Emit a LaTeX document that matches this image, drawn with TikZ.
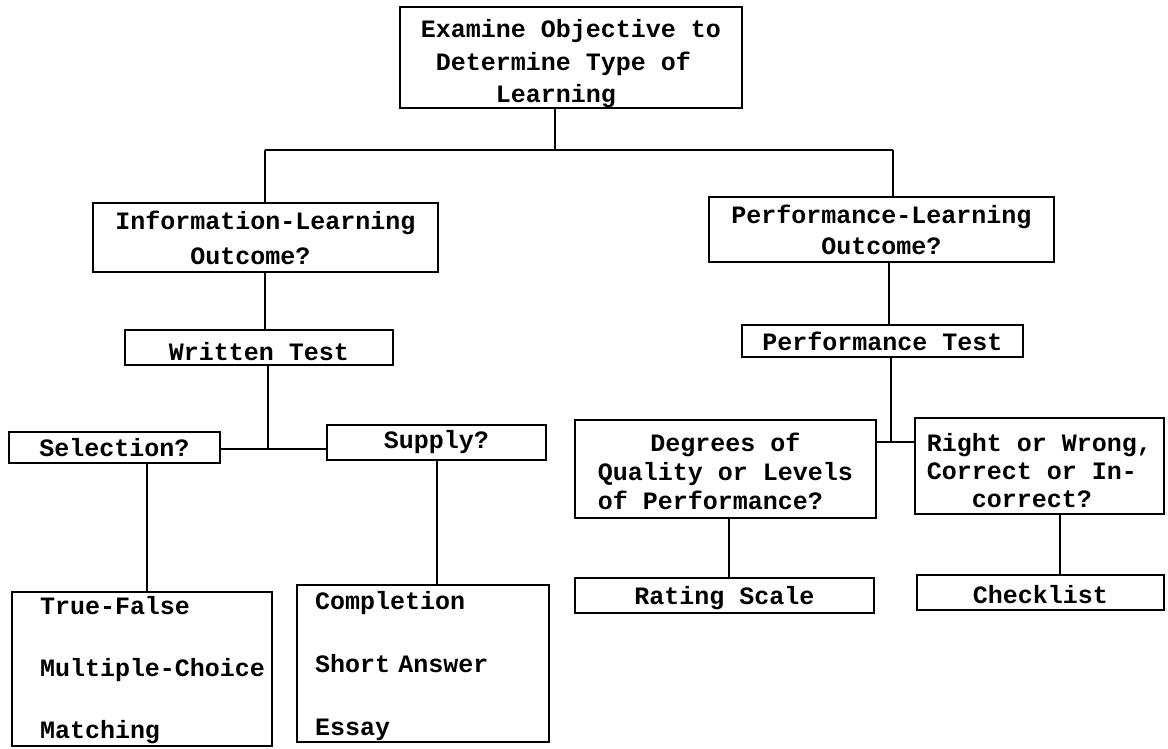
\documentclass[tikz,border=0pt]{standalone}
\usepackage{fontspec}
\setmainfont{Liberation Mono}
\newcommand{\dnstrut}[1]{\rule{0pt}{#1pt}}
\begin{document}
\begin{tikzpicture}[x=1pt,y=-1pt,
  box/.style={draw, line width=2pt, inner sep=0pt, font=\fontsize{25}{31}\selectfont\bfseries},
  conn/.style={line width=2pt}]
\useasboundingbox (0,0) rectangle (1168,748);
% boxes
\node[box, minimum width=342pt, minimum height=99pt, align=left, font=\fontsize{25}{32.5}\selectfont\bfseries] (top) at (571,57.5)
  {\dnstrut{31}Examine Objective to\\\hphantom{x}Determine Type of\\\hphantom{xxxxx}Learning};
\node[box, minimum width=345pt, minimum height=69pt, align=left, font=\fontsize{25}{35}\selectfont\bfseries] (info) at (265.5,237.5)
  {Information-Learning\\\hphantom{xxxxx}Outcome?};
\node[box, minimum width=345pt, minimum height=65pt, align=center, font=\fontsize{25}{31}\selectfont\bfseries] (perf) at (881.5,229.5)
  {Performance-Learning\\Outcome?};
\node[box, minimum width=268pt, minimum height=35pt] (written) at (259,347.5) {\dnstrut{26}Written Test};
\node[box, minimum width=281pt, minimum height=32pt] (perftest) at (882.5,341) {Performance Test};
\node[box, minimum width=211pt, minimum height=31pt] (sel) at (114.5,447.5) {Selection?};
\node[box, minimum width=219pt, minimum height=35pt] (sup) at (436.5,442.5) {Supply?};
\node[box, minimum width=260pt, minimum height=154pt, text width=204pt, align=left, font=\fontsize{25}{62}\selectfont\bfseries] (tf) at (142,669)
  {\mbox{\dnstrut{20}True-False}\\\mbox{Multiple-Choice}\\\mbox{Matching}};
\node[box, minimum width=252pt, minimum height=157pt, text width=216pt, align=left, font=\fontsize{25}{63}\selectfont\bfseries] (comp) at (423,663.5)
  {\mbox{\dnstrut{24}Completion}\\\mbox{Short Answer}\\\mbox{Essay}};
\node[box, minimum width=301pt, minimum height=98pt, align=left, font=\fontsize{25}{29}\selectfont\bfseries] (deg) at (725.5,469)
  {\dnstrut{24}\hphantom{xxx}\hspace{7.5pt}Degrees of\\Quality or Levels\\of Performance?};
\node[box, minimum width=249pt, minimum height=96pt, align=left, font=\fontsize{25}{28}\selectfont\bfseries] (rw) at (1039.5,466)
  {\dnstrut{28}Right or Wrong,\\Correct or In-\\\hphantom{xxx}correct?};
\node[box, minimum width=299pt, minimum height=35pt] (rating) at (724.5,595.5) {\dnstrut{24}Rating Scale};
\node[box, minimum width=247pt, minimum height=35pt] (check) at (1040.5,592.5) {\dnstrut{23}Checklist};
% junction points
\coordinate (j0) at (555,150);
\coordinate (jl) at (265,150);
\coordinate (jr) at (893,150);
\coordinate (j1) at (268,449);
\coordinate (s1) at (147,0);
\coordinate (p1) at (889,0);
\coordinate (j2) at (891,442);
\coordinate (d1) at (729,0);
\coordinate (r1) at (1060,0);
% connectors
\draw[conn] (top.south -| j0) -- (j0);
\draw[conn] (jl) -- (jr);
\draw[conn] (jl) -- (info.north -| jl);
\draw[conn] (jr) -- (perf.north -| jr);
\draw[conn] (info.south -| jl) -- (written.north -| jl);
\draw[conn] (written.south -| j1) -- (j1);
\draw[conn] (sel.east |- j1) -- (sup.west |- j1);
\draw[conn] (sel.south -| s1) -- (tf.north -| s1);
\draw[conn] (sup.south) -- (sup.south |- comp.north);
\draw[conn] (perf.south -| p1) -- (perftest.north -| p1);
\draw[conn] (perftest.south -| j2) -- (j2);
\draw[conn] (deg.east |- j2) -- (rw.west |- j2);
\draw[conn] (deg.south -| d1) -- (rating.north -| d1);
\draw[conn] (rw.south -| r1) -- (check.north -| r1);
\end{tikzpicture}
\end{document}
